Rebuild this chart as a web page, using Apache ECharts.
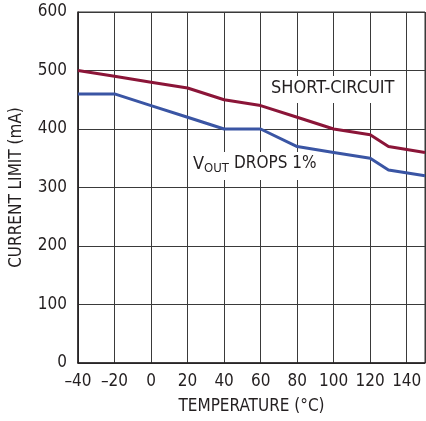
<!DOCTYPE html>
<html><head><meta charset="utf-8">
<script src="https://cdn.jsdelivr.net/npm/echarts@6/dist/echarts.min.js"></script>
<style>html,body{margin:0;padding:0;background:#fff}#c{width:426px;height:421px}</style>
</head><body><div id="c"></div>
<script>
var temps = [-40, -20, 0, 20, 40, 60, 80, 100, 120, 130, 150];
var shortCircuit = [500, 490, 480, 470, 450, 440, 420, 400, 390, 370, 360];
var voutDrops = [460, 460, 440, 420, 400, 400, 370, 360, 350, 330, 320];
var xTitle = 'TEMPERATURE (°C)';
var yTitle = 'CURRENT LIMIT (mA)';
var FONT = "'Liberation Sans Narrow', 'DejaVu Sans Condensed', 'Roboto', sans-serif";
var TXT = '#231f20';
function pairs(xs, ys){ return xs.map(function(x,i){return [x, ys[i]];}); }
var chart = echarts.init(document.getElementById('c'));
chart.setOption({
  animation: false,
  grid: {left: 74, top: 12, right: 1, bottom: 58, show: true, borderColor: '#333', borderWidth: 1},
  xAxis: {
    type: 'value', min: -40, max: 150, interval: 20,
    name: xTitle, nameLocation: 'middle', nameGap: 35,
    nameTextStyle: {fontFamily: FONT, fontSize: 17, color: TXT},
    axisLine: {show: true, onZero: false, lineStyle: {color: '#231f20', width: 1.5}},
    axisTick: {show: false},
    axisLabel: {showMaxLabel: false, fontFamily: FONT, fontSize: 17, color: TXT, margin: 10,
      formatter: function(v){ return String(v).replace('-', '\u2013'); }},
    splitLine: {show: true, lineStyle: {color: '#3a3a3a', width: 1}}
  },
  yAxis: {
    type: 'value', min: 0, max: 600, interval: 100,
    name: yTitle, nameLocation: 'middle', nameGap: 53,
    nameTextStyle: {fontFamily: FONT, fontSize: 17, color: TXT},
    axisLine: {show: true, onZero: false, lineStyle: {color: '#231f20', width: 1.5}},
    axisTick: {show: false},
    axisLabel: {fontFamily: FONT, fontSize: 17, color: TXT, margin: 11},
    splitLine: {show: true, lineStyle: {color: '#3a3a3a', width: 1}}
  },
  series: [
    {type: 'line', z: 3, data: pairs(temps, shortCircuit), symbol: 'none', lineStyle: {color: '#8b1538', width: 3}},
    {type: 'line', z: 3, data: pairs(temps, voutDrops), symbol: 'none', lineStyle: {color: '#3a55a4', width: 3}}
  ],
  graphic: [
    {type: 'rect', z: 1, shape: {x: 267, y: 76, width: 127, height: 27}, style: {fill: '#fff'}},
    {type: 'rect', z: 1, shape: {x: 189, y: 152, width: 134, height: 28}, style: {fill: '#fff'}},
    {type: 'text', left: 271, top: 79, z: 100, style: {text: 'SHORT-CIRCUIT', font: '18px ' + FONT, fill: TXT}},
    {type: 'text', left: 193, top: 155, z: 100, style: {text: 'V', font: '18px ' + FONT, fill: TXT}},
    {type: 'text', left: 204, top: 162, z: 100, style: {text: 'OUT', font: '13px ' + FONT, fill: TXT}},
    {type: 'text', left: 234, top: 155, z: 100, style: {text: 'DROPS 1%', font: '17px ' + FONT, fill: TXT}}
  ]
});
</script></body></html>
